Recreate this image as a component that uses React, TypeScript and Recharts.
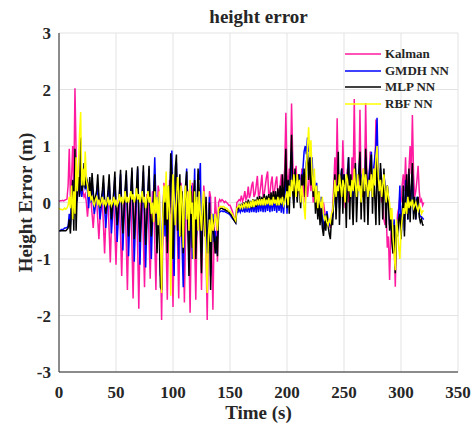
import React from "react";
import {
  LineChart,
  Line,
  XAxis,
  YAxis,
  CartesianGrid,
  Legend,
  Label,
} from "recharts";

// one sample per second, t = 0 … 320 s
const KALMAN = [
  0.02, 0.03, 0.03, 0.04, 0.03, 0.04, 0.05, 0.06, 0.3, 0.95, // 0
  0.1, 0.4, 1.0, 0.3, 2.02, 0.9, 0.1, 0.3, 0.2, 0.25, // 10
  0.15, 0.2, 0.1, 0.15, 0.0, -0.25, 0.0, 0.1, 0.05, -0.2, // 20
  -0.45, -0.15, 0.05, 0.05, -0.3, -0.65, -0.25, 0.05, 0.0, -0.4, // 30
  -0.9, -0.35, 0.05, 0.0, -0.5, -1.06, -0.4, 0.05, 0.0, -0.5, // 40
  -1.1, -0.45, 0.05, 0.0, -0.6, -1.3, -0.5, 0.05, 0.0, -0.7, // 50
  -1.55, -0.6, 0.05, 0.05, -0.75, -1.7, -0.65, 0.1, 0.0, -0.8, // 60
  -1.88, -0.7, 0.1, 0.05, -0.65, -1.5, -0.55, 0.15, 0.05, -0.6, // 70
  -1.35, -0.5, 0.2, 0.1, -0.7, -1.55, -0.5, 0.3, 0.15, -0.9, // 80
  -2.08, -0.7, 0.35, 0.1, -0.75, -1.72, -0.6, 0.4, 0.2, -0.8, // 90
  -1.85, -0.6, 0.3, 0.15, -0.7, -1.7, -0.55, 0.35, 0.1, -0.8, // 100
  -1.77, -0.6, 0.3, 0.2, -0.85, -1.95, -0.6, 0.35, 0.15, -0.75, // 110
  -1.72, -0.5, 0.3, 0.1, -0.6, -1.55, -0.45, 0.3, 0.0, -0.9, // 120
  -2.08, -0.7, 0.2, 0.1, -0.85, -1.9, -0.6, 0.1, -0.2, -1.05, // 130
  0.0, 0.05, 0.02, 0.05, 0.03, 0.0, 0.02, 0.0, -0.02, -0.05, // 140
  -0.05, -0.1, -0.15, -0.22, -0.3, -0.35, 0.0, 0.02, 0.05, 0.03, // 150
  0.12, 0.02, 0.08, 0.2, 0.05, 0.1, 0.28, 0.08, 0.15, 0.3, // 160
  0.37, 0.1, 0.15, 0.3, 0.47, 0.12, 0.15, 0.3, 0.49, 0.1, // 170
  0.15, 0.3, 0.45, 0.55, 0.12, 0.15, 0.35, 0.46, 0.1, 0.2, // 180
  0.35, 0.46, 0.1, 0.2, 0.3, 0.5, 0.1, 0.3, 0.6, 1.59, // 190
  0.5, 0.3, 0.6, 0.4, 1.75, 0.8, 0.2, 0.5, 0.65, 0.1, // 200
  0.3, 0.5, 0.2, 0.6, 0.1, 0.4, 0.0, 0.5, 0.1, 0.3, // 210
  0.6, 0.2, 0.5, 0.0, 0.3, 0.1, -0.1, 0.2, 0.0, -0.1, // 220
  -0.05, -0.2, 0.0, -0.15, -0.3, -0.2, -0.4, -0.35, -0.45, -0.3, // 230
  -0.1, 0.3, 0.8, 0.2, 1.49, 0.3, 0.0, 0.5, 0.2, 1.1, // 240
  0.4, -0.1, 0.3, 0.6, 0.0, 0.3, 0.1, 0.8, 0.3, 1.83, // 250
  0.4, 0.2, 0.5, 0.3, 1.64, 0.3, 0.1, 0.6, 0.3, 1.76, // 260
  0.5, 0.2, 0.4, 0.9, 0.3, 0.2, 0.6, 0.4, 1.47, 0.6, // 270
  0.4, 0.2, 0.3, 0.0, 0.1, -0.3, -0.4, -0.2, -0.8, -0.6, // 280
  -1.37, -0.6, -0.4, -0.9, -0.7, -1.49, -0.5, -0.2, -0.1, 0.1, // 290
  0.0, 0.3, 0.5, 0.2, 0.8, 0.1, 0.4, 0.6, 1.0, 0.5, // 300
  1.55, 0.5, 0.1, 0.2, 0.4, 0.65, 0.2, 0.0, 0.05, -0.05, // 310
  0.0, // 320
];

const GMDH = [
  -0.5, -0.5, -0.48, -0.48, -0.47, -0.45, -0.45, -0.44, -0.42, -0.2, // 0
  -0.4, 0.1, -0.3, 0.2, 0.6, 0.0, 0.05, 0.3, 0.4, 0.2, // 10
  0.1, 0.35, 0.4, 0.25, 0.3, 0.2, -0.1, 0.3, 0.0, 0.4, // 20
  0.0, -0.2, -0.05, 0.1, 0.35, -0.05, -0.3, -0.1, 0.1, 0.35, // 30
  -0.1, -0.45, -0.15, 0.1, 0.4, -0.1, -0.55, -0.2, 0.1, 0.45, // 40
  -0.15, -0.7, -0.3, 0.1, 0.5, -0.2, -0.85, -0.3, 0.1, 0.5, // 50
  -0.2, -0.95, -0.35, 0.15, 0.55, -0.2, -1.05, -0.4, 0.1, 0.6, // 60
  -0.3, -1.1, -0.4, 0.1, 0.55, -0.3, -1.15, -0.4, 0.15, 0.6, // 70
  -0.3, -1.0, -0.3, 0.2, 0.8, 0.0, -0.6, 0.1, -0.4, -1.3, // 80
  -1.1, -0.2, 0.2, -0.6, 0.1, -0.7, 0.2, -0.1, 0.6, 0.92, // 90
  -0.8, -1.3, 0.4, 0.7, -0.3, -1.0, 0.3, -0.3, -0.8, -1.5, // 100
  -0.4, 0.1, 0.6, -0.2, -1.0, -0.6, 0.3, -1.0, -0.2, 0.6, // 110
  -0.8, -0.4, 0.5, 0.4, 0.7, -0.9, -0.2, 0.1, -0.4, -0.2, // 120
  -0.9, -0.5, 0.1, -1.3, -0.5, -0.2, -0.7, -0.5, -0.9, -0.6, // 130
  -0.18, -0.17, -0.15, -0.15, -0.16, -0.15, -0.17, -0.18, -0.19, -0.2, // 140
  -0.22, -0.25, -0.28, -0.3, -0.33, -0.36, -0.15, -0.17, -0.12, -0.17, // 150
  -0.1, -0.17, -0.08, -0.18, -0.05, -0.17, -0.03, -0.18, -0.02, -0.17, // 160
  0.0, -0.17, 0.0, -0.18, 0.02, -0.17, 0.03, -0.16, 0.05, -0.17, // 170
  0.05, -0.17, 0.06, -0.15, 0.08, -0.17, 0.08, -0.16, 0.1, -0.15, // 180
  0.1, -0.18, 0.1, -0.15, 0.05, -0.18, 0.1, -0.2, 0.15, 0.6, // 190
  -0.2, 0.2, 0.0, 0.4, 0.9, 0.3, 0.0, 0.5, 0.4, 0.2, // 200
  0.3, 0.5, 0.0, 0.4, 0.6, 0.9, 1.0, 0.85, 1.15, 0.9, // 210
  1.0, 0.6, 0.8, 0.3, 0.4, 0.2, 0.35, 0.0, 0.2, -0.2, // 220
  0.1, -0.3, -0.5, -0.2, -0.3, -0.15, -0.3, -0.4, -0.35, -0.3, // 230
  -0.25, 0.0, 0.3, -0.1, 0.2, 0.5, -0.1, 0.4, 0.6, 0.2, // 240
  0.5, 0.3, 0.0, 0.5, 0.8, 0.1, 0.4, 0.3, 0.0, 0.5, // 250
  0.6, 0.1, 0.3, 0.5, 0.8, 0.0, 0.5, 0.3, 0.1, 0.8, // 260
  0.4, 0.0, 0.5, 0.7, 0.9, 0.2, 0.6, 0.8, 1.0, 1.5, // 270
  0.5, 0.2, 0.6, 0.4, 0.1, 0.5, 0.3, -0.2, 0.3, 0.1, // 280
  -0.4, -0.1, -0.6, -0.5, -0.3, -1.0, -0.4, -0.5, -0.2, 0.3, // 290
  -0.5, -0.2, 0.1, -0.5, 0.4, 0.2, -0.3, 0.5, -0.2, 0.2, // 300
  0.5, -0.2, 0.0, -0.3, 0.1, 0.0, -0.2, -0.25, -0.25, -0.28, // 310
  -0.3, // 320
];

const MLP = [
  -0.5, -0.5, -0.5, -0.5, -0.5, -0.5, -0.5, -0.48, -0.45, -0.3, // 0
  -0.55, -0.1, 0.4, -0.5, 0.95, -0.5, 0.2, 0.45, 0.1, 1.15, // 10
  0.2, 0.3, 0.7, 0.25, 0.45, 0.35, 0.1, 0.45, 0.05, 0.52, // 20
  0.2, -0.05, 0.1, 0.2, 0.5, 0.1, -0.1, 0.05, 0.2, 0.48, // 30
  0.05, -0.2, 0.0, 0.2, 0.5, 0.0, -0.3, -0.05, 0.2, 0.55, // 40
  -0.05, -0.4, -0.1, 0.2, 0.58, -0.1, -0.55, -0.15, 0.25, 0.57, // 50
  -0.1, -0.6, -0.2, 0.2, 0.62, -0.1, -0.65, -0.2, 0.25, 0.64, // 60
  -0.15, -0.7, -0.25, 0.2, 0.66, -0.1, -0.75, -0.3, 0.2, 0.65, // 70
  -0.2, -0.6, -0.2, 0.1, 0.5, -0.3, -0.9, -0.2, -0.6, -1.5, // 80
  -1.55, -0.3, 0.1, -0.4, 0.2, -0.9, 0.3, -0.2, 0.87, 0.5, // 90
  -1.0, -0.3, 0.6, 0.85, -0.5, -0.1, 0.5, -0.6, 0.2, -0.9, // 100
  -0.2, 0.3, 0.55, -0.4, -1.3, -0.3, 0.2, -0.8, 0.1, 0.4, // 110
  -1.0, -0.2, 0.6, 0.2, -0.5, -1.25, -0.3, 0.0, -0.6, 0.1, // 120
  -0.6, -0.9, 0.0, -1.55, -0.6, -0.3, -0.6, -0.9, -0.6, -0.95, // 130
  -0.15, -0.12, -0.1, -0.1, -0.12, -0.12, -0.13, -0.15, -0.15, -0.17, // 140
  -0.2, -0.22, -0.25, -0.3, -0.33, -0.36, -0.1, -0.12, -0.05, -0.1, // 150
  -0.02, -0.1, 0.0, -0.08, 0.02, -0.1, 0.05, -0.08, 0.03, -0.1, // 160
  0.06, -0.05, 0.05, -0.08, 0.1, -0.05, 0.12, -0.05, 0.1, -0.03, // 170
  0.15, -0.05, 0.12, 0.0, 0.15, -0.05, 0.18, -0.02, 0.2, 0.0, // 180
  0.2, -0.05, 0.25, 0.0, 0.3, -0.05, 0.5, 0.0, 0.3, 0.95, // 190
  -0.1, 0.4, -0.2, 0.6, 1.2, 0.2, -0.1, 0.6, 0.3, 0.0, // 200
  0.5, 0.2, -0.1, 0.5, 0.3, 0.6, 0.1, 0.7, 0.9, 0.4, // 210
  0.8, 0.3, 0.6, 0.1, 0.3, -0.2, 0.2, -0.3, 0.0, -0.4, // 220
  -0.1, -0.45, -0.59, -0.3, -0.5, -0.2, -0.4, -0.55, -0.65, -0.3, // 230
  -0.4, 0.1, 0.5, -0.3, 0.2, 0.9, -0.4, 0.3, 0.6, -0.2, // 240
  0.5, 0.3, -0.45, 0.4, 0.8, -0.3, 0.5, 0.1, -0.4, 0.3, // 250
  0.7, -0.35, 0.2, 0.5, 0.9, -0.3, 0.4, 0.2, -0.35, 0.95, // 260
  0.4, -0.4, 0.3, 0.6, 0.85, -0.2, 0.5, 0.1, -0.4, 0.85, // 270
  0.2, -0.4, 0.7, 0.3, -0.3, 0.6, 0.1, -0.45, 0.3, 0.0, // 280
  -0.5, -0.2, -0.7, -0.9, -0.4, -1.25, -0.5, -0.6, -0.3, -0.2, // 290
  -0.65, -0.3, 0.3, -0.6, 0.2, 0.5, -0.3, 0.6, -0.35, 0.3, // 300
  0.7, -0.3, 0.1, -0.3, 0.05, 0.1, -0.25, -0.35, -0.3, -0.4, // 310
  -0.4, // 320
];

const RBF = [
  -0.1, -0.12, -0.12, -0.13, -0.12, -0.1, -0.12, -0.1, -0.05, 0.1, // 0
  -0.1, 0.3, -0.3, 0.2, -0.2, 0.8, 0.2, 0.6, 1.2, 1.6, // 10
  0.3, 0.6, 0.3, 0.9, 0.4, 0.3, 0.1, 0.2, 0.05, 0.1, // 20
  0.0, -0.05, 0.05, 0.1, -0.05, 0.05, -0.05, 0.0, 0.1, -0.05, // 30
  0.05, -0.05, 0.0, 0.1, -0.05, 0.05, -0.05, 0.0, 0.1, -0.05, // 40
  0.05, -0.05, 0.0, 0.15, 0.0, 0.1, 0.0, 0.05, 0.2, 0.0, // 50
  0.1, 0.0, 0.1, 0.2, 0.05, 0.15, 0.0, 0.1, 0.25, 0.05, // 60
  0.15, 0.0, 0.1, 0.2, 0.0, 0.1, -0.1, 0.05, 0.2, 0.0, // 70
  0.1, -0.2, 0.0, -0.35, 0.2, -0.2, 0.1, -0.4, 0.2, -0.6, // 80
  -1.6, -0.3, 0.3, 0.0, 0.55, -0.3, 0.3, -0.2, -1.65, -0.2, // 90
  0.5, 0.1, -0.4, 0.0, 0.45, 0.2, -0.6, 0.3, 0.0, -0.8, // 100
  0.1, 0.3, -0.3, 0.2, -0.5, 0.4, -0.2, 0.0, -1.0, 0.2, // 110
  -0.3, 0.1, -0.5, 0.2, -0.2, -0.5, 0.0, 0.2, -0.4, -1.0, // 120
  -1.6, -0.6, -0.3, -0.7, -0.2, -0.5, -0.4, -0.2, -0.3, -0.5, // 130
  -0.1, -0.08, -0.07, -0.08, -0.07, -0.08, -0.1, -0.1, -0.12, -0.15, // 140
  -0.15, -0.18, -0.2, -0.25, -0.28, -0.32, -0.1, -0.08, -0.05, -0.1, // 150
  -0.05, -0.1, -0.03, -0.08, 0.0, -0.08, -0.02, -0.1, 0.02, -0.08, // 160
  0.05, -0.08, 0.03, -0.05, 0.05, -0.05, 0.06, -0.05, 0.06, -0.05, // 170
  0.08, -0.05, 0.05, -0.03, 0.08, -0.05, 0.05, -0.05, 0.1, -0.02, // 180
  0.05, -0.05, 0.1, -0.05, 0.05, 0.0, 0.1, -0.05, 0.0, 0.1, // 190
  0.2, -0.05, 0.3, 0.1, 0.4, 0.2, 0.5, 0.3, 0.1, 0.5, // 200
  0.2, 0.4, 0.0, 0.3, 0.1, -0.1, -0.3, 0.6, 1.0, 1.33, // 210
  0.8, 1.1, 0.5, 0.2, 0.6, 0.0, 0.3, -0.1, 0.2, 0.0, // 220
  -0.1, 0.1, -0.2, -0.3, -0.25, -0.35, -0.4, -0.3, -0.35, -0.2, // 230
  -0.15, 0.1, 0.4, 0.1, 0.3, 0.2, 0.5, 0.3, 0.1, 0.4, // 240
  0.3, 0.0, 0.5, 0.4, 0.2, 0.3, 0.1, 0.4, 0.2, 0.6, // 250
  0.3, 0.1, 0.5, 0.2, 0.3, 0.0, 0.4, 0.6, 0.2, 0.5, // 260
  0.3, 0.1, 0.4, 0.2, 0.5, 0.1, 0.6, 0.3, 0.8, 1.0, // 270
  0.5, 0.2, 0.4, 0.1, 0.3, 0.5, 0.2, 0.0, 0.3, 0.1, // 280
  0.0, -0.3, -0.1, -0.6, -0.9, -1.2, -0.3, -0.5, -0.8, -1.0, // 290
  -0.5, -0.3, -0.1, -0.2, 0.0, -0.2, 0.1, -0.1, 0.0, -0.05, // 300
  0.05, -0.1, -0.05, 0.0, -0.1, -0.15, -0.05, -0.1, -0.2, -0.15, // 310
  -0.15, // 320
];

const X_TICKS = [0, 50, 100, 150, 200, 250, 300, 350];
const Y_TICKS = [-3, -2, -1, 0, 1, 2, 3];

const SERIES = [
  { key: "kalman", name: "Kalman", color: "#ff1aa0" },
  { key: "gmdh", name: "GMDH NN", color: "#0000ff" },
  { key: "mlp", name: "MLP NN", color: "#000000" },
  { key: "rbf", name: "RBF NN", color: "#ffff00" },
];

const FONT = '"Liberation Serif", "Times New Roman", serif';
const AXIS_COLOR = "#262626";

const data = KALMAN.map((k, i) => ({
  t: i,
  kalman: k,
  gmdh: GMDH[i],
  mlp: MLP[i],
  rbf: RBF[i],
}));

function MatlabLegend() {
  return (
    <div style={{ fontFamily: FONT, fontWeight: "bold", fontSize: 13, color: AXIS_COLOR }}>
      {SERIES.map((s) => (
        <div key={s.key} style={{ display: "flex", alignItems: "center", height: 16.5 }}>
          <span
            style={{
              display: "inline-block",
              width: 36,
              height: 2,
              background: s.color,
              opacity: 0.75,
              marginRight: 4,
            }}
          />
          <span>{s.name}</span>
        </div>
      ))}
    </div>
  );
}

function YTitle({ viewBox }: any) {
  const cy = viewBox.y + viewBox.height / 2;
  return (
    <text
      x={25}
      y={cy}
      transform={`rotate(-90 25 ${cy})`}
      textAnchor="middle"
      dominantBaseline="central"
      fontFamily={FONT}
      fontWeight="bold"
      fontSize={19}
      fill={AXIS_COLOR}
    >
      Height Error (m)
    </text>
  );
}

export default function App() {
  const tickStyle = { fontSize: 17, fontWeight: "bold", fill: AXIS_COLOR, fontFamily: FONT };
  return (
    <div style={{ position: "absolute", left: 0, top: 0, width: 473, height: 426, background: "#fff" }}>
      <div
        style={{
          position: "absolute",
          left: 59,
          width: 399,
          top: 6,
          textAlign: "center",
          fontFamily: FONT,
          fontWeight: "bold",
          fontSize: 19,
          color: AXIS_COLOR,
          lineHeight: "22px",
        }}
      >
        height error
      </div>
      <LineChart
        width={473}
        height={426}
        data={data}
        margin={{ top: 33, right: 15, bottom: 0, left: 0 }}
      >
        <CartesianGrid stroke="#e3e3e3" strokeWidth={1} />
        <XAxis
          dataKey="t"
          type="number"
          domain={[0, 350]}
          ticks={X_TICKS}
          interval={0}
          height={54}
          tickLine={false}
          tickMargin={8}
          axisLine={{ stroke: AXIS_COLOR }}
          tick={tickStyle}
        >
          <Label
            value="Time (s)"
            position="insideBottom"
            offset={7}
            style={{ fontFamily: FONT, fontWeight: "bold", fontSize: 19, fill: AXIS_COLOR }}
          />
        </XAxis>
        <YAxis
          type="number"
          domain={[-3, 3]}
          ticks={Y_TICKS}
          interval={0}
          width={59}
          tickLine={false}
          axisLine={{ stroke: AXIS_COLOR }}
          tick={tickStyle}
        >
          <Label content={<YTitle />} />
        </YAxis>
        <Legend
          layout="vertical"
          align="center"
          verticalAlign="middle"
          content={<MatlabLegend />}
          wrapperStyle={{ position: "absolute", left: 345, top: 46, width: 110 }}
        />
        {SERIES.map((s) => (
          <Line
            key={s.key}
            type="linear"
            dataKey={s.key}
            name={s.name}
            stroke={s.color}
            strokeWidth={1.5}
            dot={false}
            isAnimationActive={false}
          />
        ))}
      </LineChart>
    </div>
  );
}
